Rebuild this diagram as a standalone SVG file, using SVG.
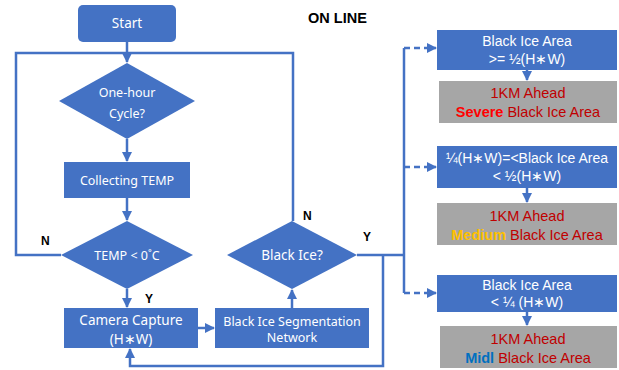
<svg xmlns="http://www.w3.org/2000/svg" width="619" height="370" viewBox="0 0 619 370">
<defs>
<marker id="ah" viewBox="0 0 10 10" refX="9" refY="5" markerWidth="4" markerHeight="4" orient="auto" markerUnits="strokeWidth"><path d="M0,0 L10,5 L0,10 z" fill="#4472C4"/></marker>
</defs>
<style>
.b{fill:#4472C4}
.g{fill:#A6A6A6}
.w{fill:#fff;font-family:"Noto Sans","Liberation Sans",sans-serif;font-size:12.5px;text-anchor:middle}
.a{fill:#fff;font-family:"Liberation Sans",Arial,sans-serif;font-size:14px;text-anchor:middle}
.r{fill:#C00000;font-family:"Liberation Sans",Arial,sans-serif;font-size:14.5px;text-anchor:middle}
.l{fill:none;stroke:#4472C4;stroke-width:2.5}
.d{fill:none;stroke:#4472C4;stroke-width:2.5;stroke-dasharray:6,4}
.k{fill:#000;font-family:"Liberation Sans",Arial,sans-serif;font-size:12px;font-weight:bold}
</style>
<rect width="619" height="370" fill="#fff"/>
<text class="k" x="308" y="23" style="font-size:14.5px">ON LINE</text>
<g id="connectors">
<path class="l" d="M127,42 V62" marker-end="url(#ah)"/>
<path class="l" d="M61,255 H16 V53 H293 V221"/>
<path class="l" d="M127,139 V161" marker-end="url(#ah)"/>
<path class="l" d="M127,198 V220" marker-end="url(#ah)"/>
<path class="l" d="M127,289 V307" marker-end="url(#ah)"/>
<path class="l" d="M198,328 H214" marker-end="url(#ah)"/>
<path class="l" d="M292,308 V290" marker-end="url(#ah)"/>
<path class="l" d="M357,255 H404"/>
<path class="l" d="M383,255 V366 H130 V349" marker-end="url(#ah)"/>
<path class="l" d="M404,48 V293"/>
<path class="d" d="M404,48 H436" marker-end="url(#ah)"/>
<path class="d" d="M404,167 H436" marker-end="url(#ah)"/>
<path class="d" d="M404,293 H436" marker-end="url(#ah)"/>
<path class="l" d="M527,70 V80" marker-end="url(#ah)"/>
<path class="l" d="M527,188 V202" marker-end="url(#ah)"/>
<path class="l" d="M527,311 V325" marker-end="url(#ah)"/>
<text class="k" x="41" y="245">N</text>
<text class="k" x="145" y="303">Y</text>
<text class="k" x="303" y="220">N</text>
<text class="k" x="363" y="241">Y</text>
</g>
<g id="start"><rect class="b" x="78" y="5" width="98" height="37" rx="5"/><text class="w" x="127" y="28" style="font-size:13.5px">Start</text></g>
<g id="cycle"><polygon class="b" points="127,63 195,101 127,139 59,101"/><text class="w" x="127" y="97">One-hour</text><text class="w" x="127" y="118">Cycle?</text></g>
<g id="collect"><rect class="b" x="64" y="162" width="126" height="36"/><text class="w" x="127" y="185">Collecting TEMP</text></g>
<g id="temp"><polygon class="b" points="127,221 193,255 127,289 61,255"/><text class="w" x="127" y="260">TEMP &lt; 0˚C</text></g>
<g id="camera"><rect class="b" x="64" y="308" width="134" height="40"/><text class="w" x="131" y="325" style="font-size:13.5px">Camera Capture</text><text class="w" x="131" y="344" style="font-size:13.5px">(H<tspan style="font-family:'Liberation Sans'">∗</tspan>W)</text></g>
<g id="seg"><rect class="b" x="215" y="308" width="154" height="40"/><text class="w" x="292" y="326">Black Ice Segmentation</text><text class="w" x="292" y="342">Network</text></g>
<g id="blackice"><polygon class="b" points="292,221 357,255 292,289 227,255"/><text class="w" x="292" y="260" style="font-size:13.5px">Black Ice?</text></g>
<g id="area1"><rect class="b" x="437" y="30" width="180" height="40"/><text class="a" x="527" y="46">Black Ice Area</text><text class="a" x="527" y="64">&gt;= ½(H∗W)</text></g>
<g id="warn1"><rect class="g" x="439" y="81" width="178" height="42"/><text class="r" x="528" y="98">1KM Ahead</text><text class="r" x="528" y="117"><tspan fill="#FF0000" font-weight="bold">Severe</tspan> Black Ice Area</text></g>
<g id="area2"><rect class="b" x="437" y="146" width="180" height="42"/><text class="a" x="527" y="163">¼(H∗W)=&lt;Black Ice Area</text><text class="a" x="527" y="181">&lt; ½(H∗W)</text></g>
<g id="warn2"><rect class="g" x="437" y="203" width="180" height="42"/><text class="r" x="527" y="221">1KM Ahead</text><text class="r" x="527" y="240"><tspan fill="#FFC000" font-weight="bold">Medium</tspan> Black Ice Area</text></g>
<g id="area3"><rect class="b" x="437" y="275" width="180" height="37"/><text class="a" x="527" y="290">Black Ice Area</text><text class="a" x="527" y="307">&lt; ¼ (H∗W)</text></g>
<g id="warn3"><rect class="g" x="440" y="326" width="177" height="42"/><text class="r" x="528" y="344">1KM Ahead</text><text class="r" x="528" y="363"><tspan fill="#0070C0" font-weight="bold">Midl</tspan> Black Ice Area</text></g>
</svg>
